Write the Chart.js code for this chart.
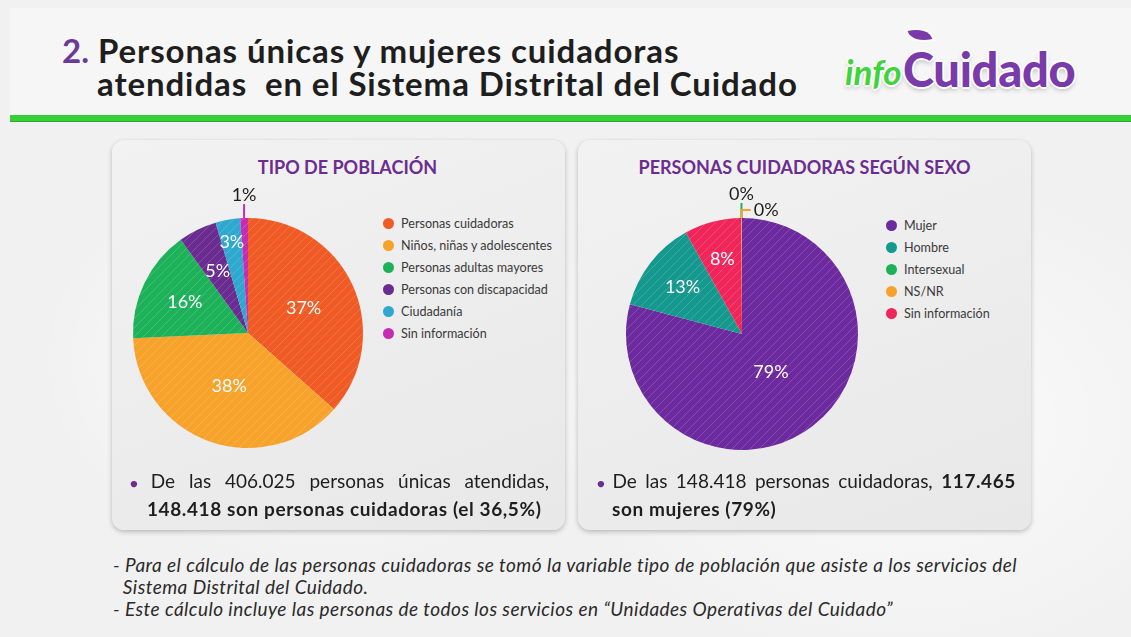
<!DOCTYPE html>
<html lang="es">
<head>
<meta charset="utf-8">
<script src="https://cdn.jsdelivr.net/npm/chart.js@4.4.1/dist/chart.umd.min.js"></script>
<style>
  html, body { margin: 0; padding: 0; }
  body {
    width: 1131px; height: 637px; position: relative; overflow: hidden;
    font-family: 'Lato', 'Noto Sans', sans-serif; color: #222;
    background:
      radial-gradient(ellipse 420px 300px at 330px 360px, rgba(255,255,255,0.9), rgba(255,255,255,0) 70%),
      radial-gradient(ellipse 500px 360px at 900px 420px, rgba(255,255,255,0.7), rgba(255,255,255,0) 70%),
      #f1f1f1;
  }
  .topband { position: absolute; left: 10px; top: 8px; width: 1121px; height: 108px; background: #f6f6f6; }
  .greenbar { position: absolute; left: 10px; top: 115px; width: 1121px; height: 6px; background: #37cf37; border-bottom: 1px solid #2aa82a; }
  .title { position: absolute; left: 62px; top: 34px; font-size: 33px; line-height: 33px; font-weight: 700; color: #1e1e1e; white-space: nowrap; letter-spacing: 0.9px; }
  .title .num { color: #6b3a98; letter-spacing: 0; }
  .title .l2 { position: relative; left: 35px; }
  .logo { position: absolute; left: 843px; top: 24px; width: 260px; height: 75px; }
  .logo .info { position: absolute; left: 2px; top: 26px; font-size: 35px; font-style: italic; font-weight: 700; color: #3fd43a;
    text-shadow: 2px 0 #fff, -2px 0 #fff, 0 2px #fff, 0 -2px #fff, 0 3px 5px rgba(0,0,0,0.25); }
  .logo .cui { position: absolute; left: 60px; top: 17px; font-size: 47px; font-weight: 900; color: #7a3aa9; letter-spacing: -0.3px;
    text-shadow: 2px 0 #fff, -2px 0 #fff, 0 2px #fff, 0 -2px #fff, 0 3px 5px rgba(0,0,0,0.25); }
  .logo .leaf { position: absolute; left: 66px; top: 4px; width: 22px; height: 14px; background: #7a3aa9;
    border-radius: 0 100% 0 100%; transform: rotate(-15deg); box-shadow: 0 0 0 2px #fff; }
  .card { position: absolute; top: 140px; width: 453px; height: 390px; border-radius: 12px;
    background: linear-gradient(160deg, #f2f2f2, #e8e8e8);
    box-shadow: 0 2px 5px rgba(0,0,0,0.22), 0 0 1px rgba(0,0,0,0.15); }
  .ctitle { position: absolute; top: 156px; font-size: 18px; font-weight: 700; color: #6b2d8f; text-align: center; line-height: 22px; }
  canvas.pie { position: absolute; }
  .legend { position: absolute; font-size: 12.6px; color: #3a3a3a; }
  .legend div { height: 22px; line-height: 22px; white-space: nowrap; }
  .legend span.dot { display: inline-block; width: 11px; height: 11px; border-radius: 50%; vertical-align: -1px; margin-right: 7px; }
  .note { position: absolute; font-size: 19px; line-height: 25px; color: #1e1e1e; }
  .note .j { text-align: justify; text-align-last: justify; }
  .note .bul { color: #6b2d8f; font-size: 13px; margin-right: 4px; }
  .note b { font-weight: 700; letter-spacing: 0.6px; }
  .foot { position: absolute; left: 113px; top: 554px; font-size: 19px; line-height: 22px; font-style: italic; color: #2a2a2a; white-space: nowrap; letter-spacing: 0.45px; }
</style>
</head>
<body>
<div class="topband"></div>
<div class="greenbar"></div>
<div class="title"><span class="num">2.</span> Personas únicas y mujeres cuidadoras<br><span class="l2">atendidas&nbsp; en el Sistema Distrital del Cuidado</span></div>
<div class="logo"><div class="leaf"></div><span class="info">info</span><span class="cui">Cuidado</span></div>

<div class="card" style="left:112px"></div>
<div class="card" style="left:578px"></div>
<div class="ctitle" style="left:121px;width:453px">TIPO DE POBLACIÓN</div>
<div class="ctitle" style="left:578px;width:453px">PERSONAS CUIDADORAS SEGÚN SEXO</div>

<canvas class="pie" id="pobChart" width="256" height="290" style="left:120px;top:180px"></canvas>
<canvas class="pie" id="sexoChart" width="256" height="290" style="left:614px;top:180px"></canvas>
<div class="legend" id="pobLegend" style="left:383px;top:213px"></div>
<div class="legend" id="sexoLegend" style="left:886px;top:215px"></div>

<div class="note" style="left:130px;top:468px;width:419px">
  <div class="j"><span class="bul">●</span>De las 406.025 personas únicas atendidas,</div>
  <div style="padding-left:17px"><b>148.418 son personas cuidadoras (el 36,5%)</b></div>
</div>
<div class="note" style="left:597px;top:468px;width:419px">
  <div class="j"><span class="bul">●</span>De las 148.418 personas cuidadoras, <b>117.465</b></div>
  <div style="padding-left:15px"><b>son mujeres (79%)</b></div>
</div>

<div class="foot">
  - Para el cálculo de las personas cuidadoras se tomó la variable tipo de población que asiste a los servicios del<br>
  &nbsp;&nbsp;Sistema Distrital del Cuidado.<br>
  - Este cálculo incluye las personas de todos los servicios en “Unidades Operativas del Cuidado”
</div>

<script>
// Tipo de población (personas únicas atendidas, total 406.025)
var pobLabels = ['Personas cuidadoras', 'Niños, niñas y adolescentes', 'Personas adultas mayores',
                 'Personas con discapacidad', 'Ciudadanía', 'Sin información'];
var pobValues = [148418, 153200, 64000, 22000, 14000, 4407];
var pobColors = ['#F05A24', '#F6A22B', '#1DB15A', '#6A2C91', '#2EA8CF', '#C42CB3'];

// Personas cuidadoras según sexo (total 148.418), en el orden del pastel
var sexoLabels = ['Mujer', 'Hombre', 'Sin información', 'Intersexual', 'NS/NR'];
var sexoValues = [117465, 19000, 11833, 20, 100];
var sexoColors = ['#6C2A9E', '#15998F', '#F0265A', '#1DB15A', '#F6A22B'];
var sexoLegendOrder = [0, 1, 3, 4, 2];

function hatch(color) {
    var c = document.createElement('canvas');
    c.width = 9; c.height = 9;
    var g = c.getContext('2d');
    g.fillStyle = color;
    g.fillRect(0, 0, 9, 9);
    g.strokeStyle = 'rgba(255,255,255,0.17)';
    g.lineWidth = 1;
    g.beginPath();
    g.moveTo(0, 9); g.lineTo(9, 0);
    g.moveTo(-1, 1); g.lineTo(1, -1);
    g.moveTo(8, 10); g.lineTo(10, 8);
    g.stroke();
    return g.createPattern(c, 'repeat');
}

// percentage labels inside slices, small slices get a leader line
var pieLabels = {
    id: 'pieLabels',
    afterDatasetsDraw: function(chart, args, opts) {
        var ctx = chart.ctx;
        var data = chart.data.datasets[0].data;
        var total = data.reduce(function(a, b) { return a + b; }, 0);
        chart.getDatasetMeta(0).data.forEach(function(arc, i) {
            var txt = Math.round(data[i] / total * 100) + '%';
            var mid = (arc.startAngle + arc.endAngle) / 2;
            var lead = opts.leaders[i];
            ctx.save();
            ctx.font = '18px Lato';
            ctx.textAlign = 'center';
            ctx.textBaseline = 'middle';
            if (lead) {
                var ex = arc.x + Math.cos(mid) * arc.outerRadius;
                var ey = arc.y + Math.sin(mid) * arc.outerRadius;
                ctx.strokeStyle = opts.colors[i];
                ctx.lineWidth = 2;
                ctx.beginPath();
                ctx.moveTo(ex, ey);
                ctx.lineTo(ex, ey - lead.up);
                if (lead.right) ctx.lineTo(ex + lead.right, ey - lead.up);
                ctx.stroke();
                ctx.fillStyle = '#1e1e1e';
                if (lead.right) {
                    ctx.textAlign = 'left';
                    ctx.fillText(txt, ex + lead.right + 3, ey - lead.up);
                } else {
                    ctx.fillText(txt, ex, ey - lead.up - 9);
                }
            } else {
                var d = opts.dist[i] * arc.outerRadius;
                ctx.fillStyle = '#fff';
                ctx.fillText(txt, arc.x + Math.cos(mid) * d, arc.y + Math.sin(mid) * d);
            }
            ctx.restore();
        });
    }
};

function makePie(id, labels, values, colors, pad, labelOpts) {
    new Chart(document.getElementById(id), {
        type: 'pie',
        data: {
            labels: labels,
            datasets: [{
                data: values,
                backgroundColor: colors.map(hatch),
                borderWidth: 0
            }]
        },
        options: {
            responsive: false,
            animation: false,
            layout: { padding: pad },
            plugins: {
                legend: { display: false },
                tooltip: { enabled: false },
                pieLabels: labelOpts
            }
        },
        plugins: [pieLabels]
    });
}

function makeLegend(id, labels, colors, order) {
    var el = document.getElementById(id);
    order.forEach(function(i) {
        var row = document.createElement('div');
        row.innerHTML = '<span class="dot" style="background:' + colors[i] + '"></span>' + labels[i];
        el.appendChild(row);
    });
}

makePie('pobChart', pobLabels, pobValues, pobColors,
    { left: 13, right: 13, top: 38, bottom: 22 },
    { colors: pobColors, dist: [0.53, 0.49, 0.61, 0.6, 0.8, 0], leaders: [null, null, null, null, null, { up: 14 }] });
makePie('sexoChart', sexoLabels, sexoValues, sexoColors,
    { left: 12, right: 12, top: 38, bottom: 20 },
    { colors: sexoColors, dist: [0.41, 0.65, 0.67, 0, 0], leaders: [null, null, null, { up: 15 }, { up: 8, right: 9 }] });

makeLegend('pobLegend', pobLabels, pobColors, [0, 1, 2, 3, 4, 5]);
makeLegend('sexoLegend', sexoLabels, sexoColors, sexoLegendOrder);
</script>
</body>
</html>
